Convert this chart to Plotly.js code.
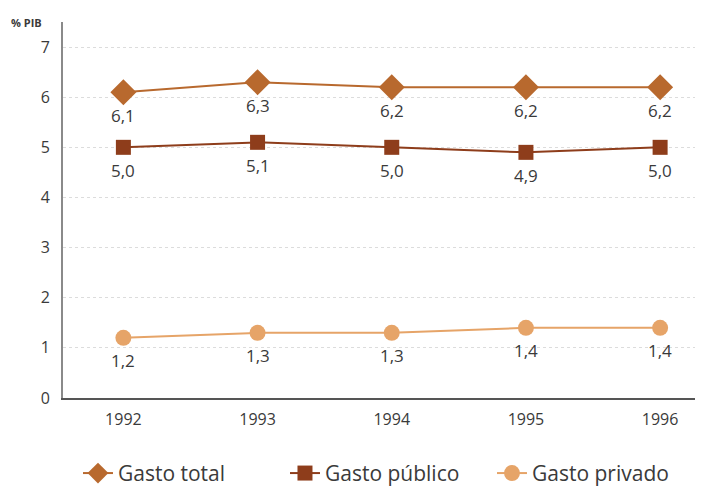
<!DOCTYPE html>
<html>
<head>
<meta charset="utf-8">
<script src="https://cdn.plot.ly/plotly-3.0.1.min.js"></script>
<style>html,body{margin:0;padding:0;background:#fff;}#chart{width:705px;height:487px;}</style>
</head>
<body>
<div id="chart"></div>
<script>
const years = ['1992', '1993', '1994', '1995', '1996'];
const gastoTotal = [6.1, 6.3, 6.2, 6.2, 6.2];
const gastoPublico = [5.0, 5.1, 5.0, 4.9, 5.0];
const gastoPrivado = [1.2, 1.3, 1.3, 1.4, 1.4];
const yTicks = [0, 1, 2, 3, 4, 5, 6, 7];

const fmt = v => v.toFixed(1).replace('.', ',');

function series(name, vals, color, symbol, size) {
  return {
    x: years, y: vals, name: name, type: 'scatter', mode: 'lines+markers',
    line: {color: color, width: 2},
    marker: {color: color, symbol: symbol, size: size},
    cliponaxis: false
  };
}

const data = [
  series('Gasto total', gastoTotal, '#B8692E', 'diamond', 20),
  series('Gasto público', gastoPublico, '#8E3D1B', 'square', 15),
  series('Gasto privado', gastoPrivado, '#E6A468', 'circle', 16)
];

const annotations = [];
[gastoTotal, gastoPublico, gastoPrivado].forEach(vals => {
  vals.forEach((v, i) => annotations.push({
    x: i, y: v, xref: 'x', yref: 'y', text: fmt(v), showarrow: false,
    xanchor: 'center', yanchor: 'middle', yshift: -23,
    font: {family: 'Open Sans, sans-serif', size: 17, color: '#3a3a3a'}
  }));
});
annotations.push({
  text: '<b>% PIB</b>', xref: 'paper', yref: 'paper', x: -0.085, y: 1.0,
  xanchor: 'left', yanchor: 'middle', showarrow: false,
  font: {size: 11, color: '#3a3a3a'}
});

const layout = {
  width: 705, height: 487,
  margin: {l: 63, r: 10, t: 22, b: 89},
  paper_bgcolor: '#fff', plot_bgcolor: '#fff',
  font: {family: 'Open Sans, sans-serif', color: '#3a3a3a'},
  xaxis: {
    type: 'category', range: [-0.45, 4.26],
    showline: true, linecolor: '#555', linewidth: 2,
    showgrid: false, zeroline: false,
    ticks: 'outside', ticklen: 6, tickcolor: 'rgba(0,0,0,0)',
    tickfont: {size: 16, color: '#3a3a3a'}
  },
  yaxis: {
    range: [0, 7.5], tickvals: yTicks, ticktext: yTicks.map(String),
    showline: true, linecolor: '#8a8a8a', linewidth: 2,
    showgrid: true, gridcolor: '#dcdcdc', griddash: 'dot', gridwidth: 1,
    zeroline: false,
    ticks: 'outside', ticklen: 8, tickcolor: 'rgba(0,0,0,0)',
    tickfont: {size: 16, color: '#3a3a3a'}
  },
  showlegend: true,
  legend: {
    orientation: 'h', x: 0.515, xanchor: 'center',
    yref: 'container', y: 0.07, yanchor: 'top',
    font: {size: 21, color: '#3a3a3a'}, entrywidth: 162, entrywidthmode: 'pixels'
  },
  annotations: annotations
};

Plotly.newPlot('chart', data, layout, {displayModeBar: false, staticPlot: true});
</script>
</body>
</html>
